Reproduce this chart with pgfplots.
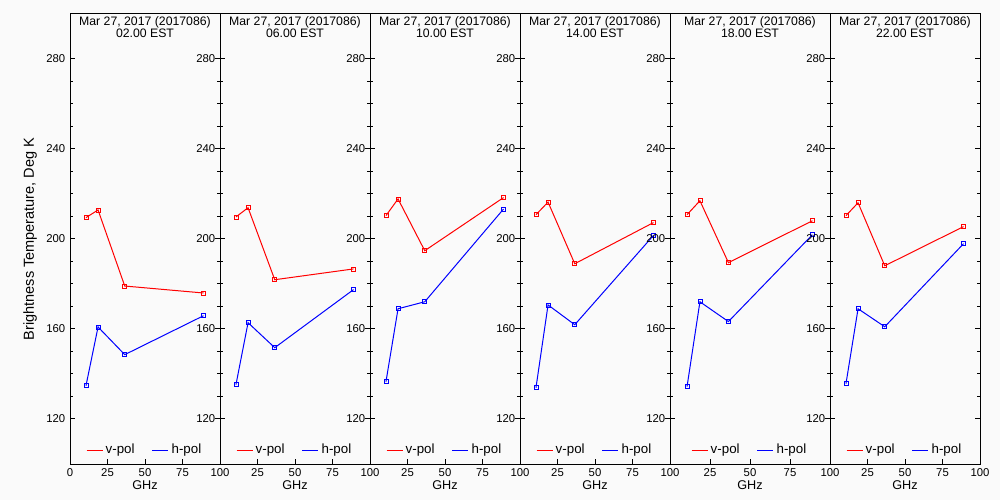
\documentclass[border=0pt]{standalone}
\usepackage{pgfplots}
\pgfplotsset{compat=1.18}
\usepackage{fontspec}
\setmainfont{Liberation Sans}
\definecolor{bg}{RGB}{250,250,250}
\pgfplotsset{
 panel/.style={
  scale only axis, width=112.5pt, height=337.5pt,
  anchor=south west,
  xmin=0,xmax=100,ymin=100,ymax=300,
  xtick={0,25,50,75,100},
  xticklabels={{},25,50,75,100},
  ytick={120,160,200,240,280},
  yticklabels={120,160,200,240,280},
  minor y tick num=3,
  tick align=inside,
  xtick pos=bottom,
  ytick pos=both,
  yticklabel pos=left,
  major tick length=3.75pt, minor tick length=2.25pt,
  axis line style={line width=0.75pt},
  every tick/.style={black, line width=0.75pt},
  tick label style={font=\fontsize{8.5}{10}\selectfont},
  /pgf/number format/assume math mode=true,
  xlabel={GHz},
  xlabel style={font=\fontsize{9.5}{11}\selectfont, at={(axis description cs:0.5,-0.0467)}, anchor=center},
  title style={font=\fontsize{9.2}{11}\selectfont, align=center, at={(axis description cs:0.5,1)}, anchor=north, inner sep=0pt, yshift=-8pt},
  legend style={at={(axis description cs:0.5,0.031)}, anchor=center, draw=none, fill=none,
    font=\fontsize{10}{12}\selectfont, inner sep=0pt,
    /tikz/every even column/.append style={column sep=11pt}},
  legend columns=2,
  legend image code/.code={\draw[mark=none,#1] (0pt,0pt) -- (12pt,0pt);},
  vp/.style={red, line width=0.75pt, mark=square, mark size=1.5pt, mark options={solid, line width=0.6pt}},
  hp/.style={blue, line width=0.75pt, mark=square, mark size=1.5pt, mark options={solid, line width=0.6pt}},
 }
}
\begin{document}
\begin{tikzpicture}
\fill[bg] (0,0) rectangle (750pt,375pt);
% Panel 1
\begin{axis}[panel, at={(52.5pt,27pt)}, xticklabels={0,25,50,75,100},
  title={Mar 27, 2017 (2017086)\\[-2.4pt]02.00 EST},
  ylabel={Brightness Temperature, Deg K},
  ylabel style={font=\fontsize{10.9}{12}\selectfont, at={(axis description cs:-0.2667,0.5)}, anchor=center}]
\addplot[vp] coordinates {(10.65,209.5) (18.7,212.9) (36.5,179.1) (89,176.0)};
\addplot[hp] coordinates {(10.65,134.8) (18.7,160.9) (36.5,148.6) (89,165.9)};
\legend{v-pol,h-pol}
\end{axis}
% Panel 2
\begin{axis}[panel, at={(165pt,27pt)},
  title={Mar 27, 2017 (2017086)\\[-2.4pt]06.00 EST}]
\addplot[vp] coordinates {(10.65,209.8) (18.7,213.9) (36.5,181.9) (89,186.7)};
\addplot[hp] coordinates {(10.65,135.3) (18.7,162.8) (36.5,151.7) (89,177.5)};
\legend{v-pol,h-pol}
\end{axis}
% Panel 3
\begin{axis}[panel, at={(277.5pt,27pt)},
  title={Mar 27, 2017 (2017086)\\[-2.4pt]10.00 EST}]
\addplot[vp] coordinates {(10.65,210.4) (18.7,217.8) (36.5,194.8) (89,218.4)};
\addplot[hp] coordinates {(10.65,136.6) (18.7,169.0) (36.5,172.1) (89,213.3)};
\legend{v-pol,h-pol}
\end{axis}
% Panel 4
\begin{axis}[panel, at={(390pt,27pt)},
  title={Mar 27, 2017 (2017086)\\[-2.4pt]14.00 EST}]
\addplot[vp] coordinates {(10.65,210.8) (18.7,216.4) (36.5,189.0) (89,207.3)};
\addplot[hp] coordinates {(10.65,133.9) (18.7,170.7) (36.5,161.9) (89,201.6)};
\legend{v-pol,h-pol}
\end{axis}
% Panel 5
\begin{axis}[panel, at={(502.5pt,27pt)}, width=120pt,
  title={Mar 27, 2017 (2017086)\\[-2.4pt]18.00 EST}]
\addplot[vp] coordinates {(10.65,210.8) (18.7,217.0) (36.5,189.5) (89,208.1)};
\addplot[hp] coordinates {(10.65,134.4) (18.7,172.1) (36.5,163.3) (89,201.9)};
\legend{v-pol,h-pol}
\end{axis}
% Panel 6
\begin{axis}[panel, at={(622.5pt,27pt)},
  title={Mar 27, 2017 (2017086)\\[-2.4pt]22.00 EST}]
\addplot[vp] coordinates {(10.65,210.4) (18.7,216.1) (36.5,188.1) (89,205.5)};
\addplot[hp] coordinates {(10.65,135.7) (18.7,169.0) (36.5,161.0) (89,197.9)};
\legend{v-pol,h-pol}
\end{axis}
\pgfresetboundingbox
\path[use as bounding box] (0,0) rectangle (750pt,375pt);
\end{tikzpicture}
\end{document}
